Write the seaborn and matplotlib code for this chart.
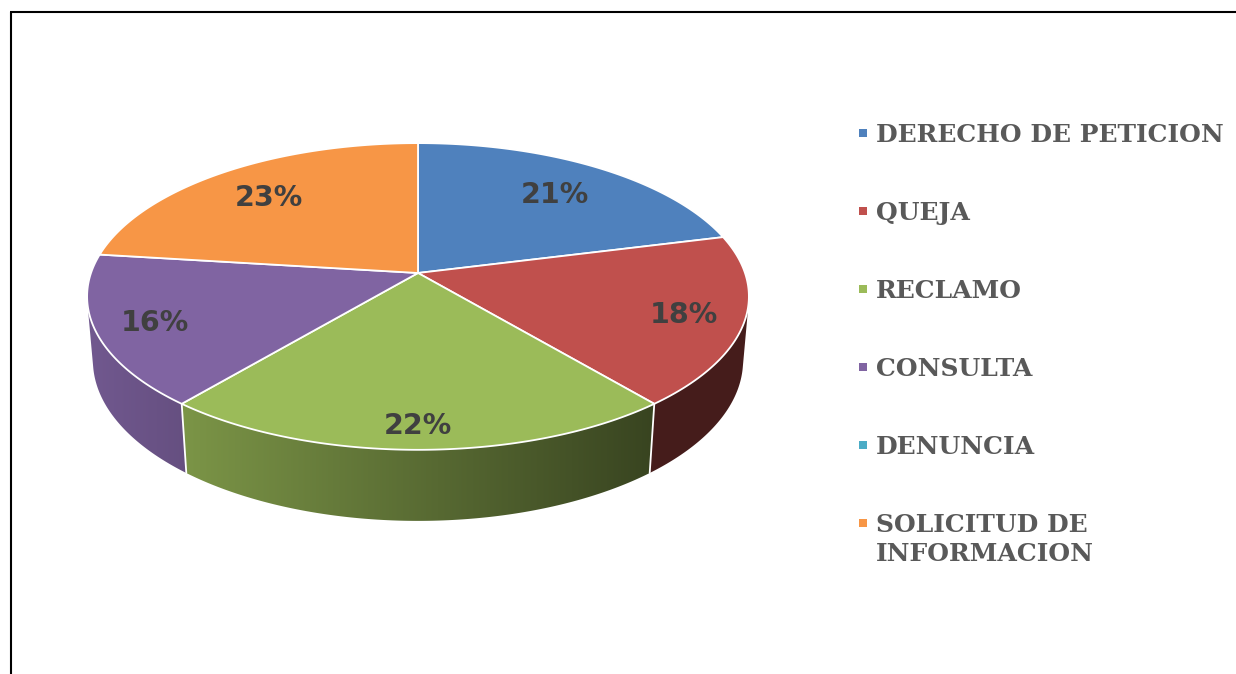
import numpy as np
import matplotlib
matplotlib.use("Agg")
import matplotlib.pyplot as plt
from matplotlib.patches import Polygon, Rectangle
import seaborn as sns

# data
categories = ["DERECHO DE PETICION", "QUEJA", "RECLAMO", "CONSULTA",
              "DENUNCIA", "SOLICITUD DE\nINFORMACION"]
percentages = [21, 18, 22, 16, 0, 23]
slice_colors = ["#4F81BD", "#C0504D", "#9BBB59", "#8064A2", "#4BACC6", "#F79646"]

sns.set_theme(style="white")
palette = sns.color_palette(slice_colors)

# 3d pie projection (pixel coords)
cx, cy = 418, 273
S = 327
tilt = np.arcsin(0.458)
sin_t, cos_t = np.sin(tilt), np.cos(tilt)
L = 5.81
thick = 0.222


def proj(u, v, w):
    D = v * cos_t + w * sin_t
    f = 1.0 / (1.0 - D / L)
    return cx + S * u * f, cy + S * (v * sin_t - w * cos_t) * f


def ring(phi, r=1.0, w=0.0):
    rad = np.radians(phi)
    return proj(r * np.sin(rad), -r * np.cos(rad), w)


def visible(phi):
    return np.cos(np.radians(phi)) < -1.0 / (L * cos_t)


fig = plt.figure(figsize=(12.36, 6.74), dpi=100)
ax = fig.add_axes([0, 0, 1, 1])
ax.set_xlim(0, 1236)
ax.set_ylim(674, 0)
ax.axis("off")

total = sum(percentages)
bounds = np.concatenate([[0], np.cumsum(percentages)]) / total * 360

# side wall, shaded darker towards the right
xs = np.linspace(cx - S - 10, cx + S + 10, 400)
k = np.clip(0.88 - 0.30 * ((xs - cx) / S + 1), 0.36, 1.0)
for i, pct in enumerate(percentages):
    if pct == 0:
        continue
    phis = [p for p in np.linspace(bounds[i], bounds[i + 1], 300) if visible(p)]
    if len(phis) < 2:
        continue
    top = [ring(p) for p in phis]
    bot = [ring(p, w=-thick) for p in phis[::-1]]
    wall = Polygon(top + bot, closed=True, facecolor="none", edgecolor="none")
    ax.add_patch(wall)
    grad = np.array(palette[i])[None, None, :] * k[None, :, None]
    im = ax.imshow(grad, extent=(xs[0], xs[-1], 560, 140), aspect="auto",
                   interpolation="bilinear", zorder=2)
    im.set_clip_path(wall)

for b in bounds:
    if visible(b):
        x0, y0 = ring(b)
        x1, y1 = ring(b, w=-thick)
        ax.plot([x0, x1], [y0, y1], color="white", lw=1.3, zorder=3)

# top face
for i, pct in enumerate(percentages):
    if pct == 0:
        continue
    arc = [ring(p) for p in np.linspace(bounds[i], bounds[i + 1], 200)]
    pts = [proj(0, 0, 0)] + arc
    ax.add_patch(Polygon(pts, closed=True, facecolor=palette[i],
                         edgecolor="white", lw=1.3, joinstyle="round", zorder=4))

# percentage labels
cap_h = 21
for i, pct in enumerate(percentages):
    if pct == 0:
        continue
    mid = np.radians(0.5 * (bounds[i] + bounds[i + 1]))
    u, v = np.sin(mid), -np.cos(mid)
    r = 0.80 + 0.07 * v
    x, y = proj(r * u, r * v, 0)
    ax.text(x, y + cap_h / 2, f"{pct}%", ha="center", va="baseline",
            fontsize=20.5, fontweight="bold", color="#404040",
            family=["DejaVu Sans"], zorder=6)

# legend
leg_x, leg_y, leg_gap, line_gap = 876, 133, 78, 29
for i, name in enumerate(categories):
    y = leg_y + i * leg_gap
    ax.add_patch(Rectangle((858.5, y - 4), 8, 8, facecolor=palette[i],
                           edgecolor="none", zorder=6))
    for j, line in enumerate(name.split("\n")):
        ax.text(leg_x, y + j * line_gap + 9, line, ha="left", va="baseline",
                fontsize=18, fontweight="bold", color="#595959",
                family=["DejaVu Serif"], zorder=6)

# frame
ax.plot([10.5, 10.5], [12, 700], color="black", lw=1.5, zorder=7,
        solid_capstyle="butt")
ax.plot([9.5, 1300], [12, 12], color="black", lw=1.5, zorder=7,
        solid_capstyle="butt")

fig.savefig("out.png", dpi=100)
